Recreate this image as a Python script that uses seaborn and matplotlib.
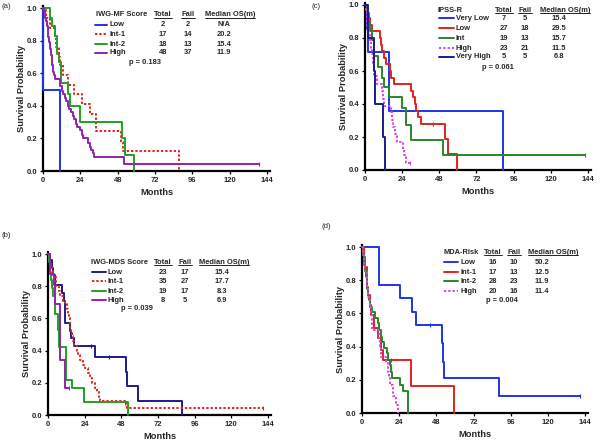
import numpy as np
import pandas as pd
import matplotlib
matplotlib.use('Agg')
import matplotlib.pyplot as plt
import seaborn as sns
from matplotlib.lines import Line2D

# ---------------- data ----------------
month_ticks = [0, 24, 48, 72, 96, 120, 144]
prob_ticks = [0.0, 0.2, 0.4, 0.6, 0.8, 1.0]

# (a) IWG-MF
a_groups = ['Low', 'Int-1', 'Int-2', 'High']
a_total = ['2', '17', '18', '48']
a_fail = ['2', '14', '13', '37']
a_median = ['N/A', '20.2', '15.4', '11.9']
a_p = 'p = 0.183'
a_low_t = [0, 0.2, 10.7]
a_low_s = [1.0, 0.5, 0.0]
a_int1_t = [0, 2.1, 4.3, 7.5, 8.6, 10.3, 11.1, 12.9, 16.1, 19.7, 25.3, 30, 34.3, 50.4, 51.4, 87.2]
a_int1_s = [1.0, 0.94, 0.88, 0.82, 0.76, 0.70, 0.65, 0.59, 0.53, 0.47, 0.41, 0.35, 0.245, 0.18, 0.12, 0.0]
a_int2_t = [0, 4.3, 6, 7.5, 9, 10.3, 11.8, 16.1, 17.1, 23.6, 51, 52.5, 58.5]
a_int2_s = [1.0, 0.94, 0.89, 0.83, 0.72, 0.67, 0.54, 0.47, 0.40, 0.30, 0.20, 0.10, 0.0]
a_high_t = [0, 0.5, 1, 1.5, 2, 2.5, 3, 3.5, 4, 4.5, 5, 5.5, 6, 6.5, 7, 7.5, 10.7, 12, 13, 14, 15,
            16, 17, 18, 19, 20, 21, 22, 24, 25, 26, 29, 30, 31, 32, 33, 52]
a_high_s = [1.0, 0.98, 0.96, 0.94, 0.92, 0.89, 0.85, 0.82, 0.79, 0.75, 0.71, 0.69, 0.65, 0.61, 0.59,
            0.566, 0.52, 0.49, 0.47, 0.45, 0.43, 0.40, 0.38, 0.36, 0.34, 0.32, 0.29, 0.27, 0.25, 0.22,
            0.20, 0.17, 0.15, 0.13, 0.11, 0.087, 0.04]
a_high_end = 139
a_cens_t = [139]
a_cens_s = [0.04]

# (b) IWG-MDS
b_groups = ['Low', 'Int-1', 'Int-2', 'High']
b_total = ['23', '35', '19', '8']
b_fail = ['17', '27', '17', '5']
b_median = ['15.4', '17.7', '8.3', '6.9']
b_p = 'p = 0.039'
b_low_t = [0, 1.5, 2.5, 3.5, 4.8, 9.1, 10.2, 10.8, 11.3, 14.6, 15.3, 17.2, 30.9, 51.1, 52, 59.2, 87.4]
b_low_s = [1.0, 0.96, 0.91, 0.87, 0.81, 0.76, 0.71, 0.66, 0.57, 0.52, 0.48, 0.43, 0.36, 0.27, 0.18, 0.09, 0.0]
b_int1_t = [0, 0.5, 1, 2, 3, 4, 5.4, 7, 8, 10, 11.3, 12.3, 13, 13.9, 14.3, 14.6, 15, 15.6, 16.3, 17.2,
            18.9, 19.6, 21, 23, 24.4, 26, 27.5, 29, 30.9, 32, 33.5, 34.2, 51.1, 51.6]
b_int1_s = [1.0, 0.97, 0.94, 0.91, 0.89, 0.86, 0.80, 0.77, 0.74, 0.71, 0.69, 0.66, 0.63, 0.60, 0.57,
            0.54, 0.51, 0.49, 0.46, 0.43, 0.40, 0.37, 0.34, 0.31, 0.29, 0.26, 0.23, 0.20, 0.17, 0.14,
            0.11, 0.09, 0.06, 0.045]
b_int1_end = 140.7
b_int2_t = [0, 0.5, 1.5, 2, 2.5, 3.3, 4.5, 6.3, 6.6, 7, 7.5, 11.5, 11.8, 12.1, 15.7, 23.7, 52.6]
b_int2_s = [1.0, 0.95, 0.89, 0.84, 0.79, 0.74, 0.63, 0.58, 0.53, 0.47, 0.42, 0.37, 0.32, 0.22, 0.17, 0.08, 0.0]
b_high_t = [0, 1, 3.7, 4.8, 7.6, 11.3]
b_high_s = [1.0, 0.875, 0.81, 0.69, 0.34, 0.17]
b_high_end = 13.5
b_cens_low_t = [28, 40]
b_cens_low_s = [0.43, 0.36]
b_cens_int1_t = [140.7]
b_cens_int1_s = [0.045]
b_cens_high_t = [13.5]
b_cens_high_s = [0.17]

# (c) IPSS-R
c_groups = ['Very Low', 'Low', 'Int', 'High', 'Very High']
c_total = ['7', '27', '19', '23', '5']
c_fail = ['5', '18', '13', '21', '5']
c_median = ['15.4', '29.5', '15.7', '11.5', '6.8']
c_p = 'p = 0.061'
c_vlow_t = [0, 1, 2, 15.7, 88.8]
c_vlow_s = [1.0, 0.857, 0.714, 0.357, 0.0]
c_low_t = [0, 1, 2, 3, 4.3, 9.7, 10.5, 11.2, 12.5, 13.5, 16, 16.5, 18.5, 29.7, 31, 32, 33, 34.5, 36,
           51.6, 53.3, 59.7]
c_low_s = [1.0, 0.96, 0.92, 0.88, 0.84, 0.80, 0.76, 0.72, 0.68, 0.64, 0.60, 0.56, 0.52, 0.48, 0.44,
           0.40, 0.36, 0.32, 0.28, 0.19, 0.094, 0.0]
c_int_t = [0, 1.5, 2.5, 3.5, 4.5, 5.8, 8.6, 10.8, 12.5, 15.7, 23.6, 26.4, 30, 50.5]
c_int_s = [1.0, 0.95, 0.89, 0.84, 0.79, 0.69, 0.625, 0.56, 0.50, 0.44, 0.375, 0.27, 0.18, 0.09]
c_int_end = 141.8
c_high_t = [0, 0.5, 1, 1.5, 2, 3, 4, 4.5, 5, 5.5, 6, 7.5, 11, 11.5, 12, 16.5, 17.5, 18.3, 19.5, 20.5,
            24.7, 25.5, 26.5]
c_high_s = [1.0, 0.96, 0.91, 0.87, 0.83, 0.78, 0.74, 0.70, 0.65, 0.61, 0.57, 0.52, 0.48, 0.43, 0.39,
            0.35, 0.30, 0.26, 0.22, 0.17, 0.13, 0.09, 0.045]
c_high_end = 29
c_vhigh_t = [0, 2, 6, 6.5, 11.4, 12.9]
c_vhigh_s = [1.0, 0.8, 0.6, 0.4, 0.2, 0.0]
c_cens_t = [141.8, 44, 29]
c_cens_s = [0.09, 0.28, 0.045]

# (d) MDA-Risk
d_groups = ['Low', 'Int-1', 'Int-2', 'High']
d_total = ['16', '17', '28', '20']
d_fail = ['10', '13', '23', '16']
d_median = ['50.2', '12.5', '11.9', '11.4']
d_p = 'p = 0.004'
d_low_t = [0, 11.2, 24.5, 32.1, 34.9, 51.4, 52.1, 53, 88.5]
d_low_s = [1.0, 0.77, 0.69, 0.61, 0.53, 0.42, 0.31, 0.21, 0.105]
d_low_end = 140.8
d_int1_t = [0, 1, 2, 3, 3.5, 4, 5, 6, 7.5, 10.5, 12, 13.8, 31.6, 59.4]
d_int1_s = [1.0, 0.94, 0.88, 0.82, 0.76, 0.71, 0.65, 0.59, 0.51, 0.45, 0.38, 0.32, 0.16, 0.0]
d_int2_t = [0, 0.5, 1, 1.5, 2, 2.5, 3, 3.5, 4, 4.5, 5, 6.2, 8.4, 10.5, 11, 12, 13, 14, 15.9, 17,
            18, 18.5, 19.2, 24.5, 26.7, 29.9]
d_int2_s = [1.0, 0.96, 0.93, 0.89, 0.86, 0.82, 0.79, 0.75, 0.71, 0.68, 0.64, 0.61, 0.57, 0.54, 0.50,
            0.46, 0.43, 0.39, 0.36, 0.32, 0.29, 0.25, 0.21, 0.17, 0.13, 0.0]
d_high_t = [0, 0.5, 1, 2, 3, 3.5, 4, 5.2, 5.7, 6.2, 11.2, 11.7, 12.3, 15.5, 16.5, 17.5, 18, 19.8, 22, 23.5]
d_high_s = [1.0, 0.95, 0.90, 0.85, 0.80, 0.75, 0.70, 0.65, 0.60, 0.50, 0.45, 0.40, 0.34, 0.30, 0.25,
            0.21, 0.17, 0.10, 0.05, 0.0]
d_cens_t = [43.9, 140.8, 18.5]
d_cens_s = [0.53, 0.105, 0.32]

# ---------------- style ----------------
sns.set_style('ticks')
plt.rcParams['font.family'] = ['Liberation Sans', 'DejaVu Sans']
plt.rcParams['font.weight'] = 'bold'
plt.rcParams['axes.labelweight'] = 'bold'

NAVY = '#1c1c8c'
BLUE = '#1f35e6'
RED = '#e3221c'
GREEN = '#22a022'
DGREEN = '#2a862a'
PURPLE = '#9322b0'
MAGENTA = '#dd44dd'
SOLID = '-'
DOT = (0, (1.2, 1.0))

fig = plt.figure(figsize=(6, 4.4), dpi=100)
W, H = 600.0, 440.0


def fx(x):
    return x / W


def fy(y):
    return 1 - y / H


def make_axes(x0, px_per_mo, y0, px_per_unit):
    width = 146 * px_per_mo
    height = 1.01 * px_per_unit
    return fig.add_axes([x0 / W, 1 - y0 / H, width / W, height / H])


def draw_curve(ax, t, s, color, ls, end=None):
    tt = list(t)
    ss = list(s)
    if end is not None:
        tt.append(end)
        ss.append(ss[-1])
    df = pd.DataFrame({'Months': tt, 'Survival': ss})
    sns.lineplot(data=df, x='Months', y='Survival', ax=ax, color=color, linestyle=ls,
                 drawstyle='steps-post', estimator=None, sort=False, lw=1.4,
                 clip_on=False, zorder=3)


def draw_censor(ax, t, s, colors):
    df = pd.DataFrame({'Months': t, 'Survival': s})
    for i in range(len(df)):
        ax.plot(df['Months'].iloc[i], df['Survival'].iloc[i], marker='|', ms=3.5,
                mew=0.8, color=colors[i], clip_on=False, zorder=4)


def style_axes(ax):
    ax.set_xlim(0, 146)
    ax.set_ylim(0, 1.01)
    ax.set_xticks(month_ticks)
    ax.set_yticks(prob_ticks)
    ax.set_yticklabels(['%.1f' % v for v in prob_ticks])
    for side in ['top', 'right']:
        ax.spines[side].set_visible(False)
    for side in ['left', 'bottom']:
        ax.spines[side].set_linewidth(1.6)
        ax.spines[side].set_color('black')
    ax.tick_params(axis='both', labelsize=5.5, width=0.9, length=2.5, pad=1.5, color='black')
    for lab in ax.get_xticklabels() + ax.get_yticklabels():
        lab.set_fontweight('bold')
    ax.set_xlabel('Months', fontsize=6.7, fontweight='bold', labelpad=3)
    ax.set_ylabel('Survival Probability', fontsize=6.7, fontweight='bold', labelpad=0.5)
    ax.set_facecolor('white')
    ax.grid(False)


underlined = []


def legend_block(title, title_x, hdr_y, row_ys, line_x0, line_x1, lab_x, groups, colors, styles,
                 total, fail, median, tot_x, fail_x, med_hx, med_x, p, p_x, p_y):
    fs = 5.4
    fig.text(fx(title_x), fy(hdr_y), title, fontsize=fs, fontweight='bold', ha='left', va='center')
    for txt, x in [('Total', tot_x), ('Fail', fail_x), ('Median OS(m)', med_hx)]:
        t = fig.text(fx(x), fy(hdr_y), txt, fontsize=fs, fontweight='bold', ha='center', va='center')
        underlined.append(t)
    for i, g in enumerate(groups):
        y = row_ys[i]
        fig.add_artist(Line2D([fx(line_x0), fx(line_x1)], [fy(y), fy(y)], color=colors[i],
                              linestyle=styles[i], lw=1.4, transform=fig.transFigure))
        fig.text(fx(lab_x), fy(y), g, fontsize=fs, fontweight='bold', ha='left', va='center')
        fig.text(fx(tot_x), fy(y), total[i], fontsize=fs, fontweight='bold', ha='center', va='center')
        fig.text(fx(fail_x), fy(y), fail[i], fontsize=fs, fontweight='bold', ha='center', va='center')
        fig.text(fx(med_x), fy(y), median[i], fontsize=fs, fontweight='bold', ha='center', va='center')
    fig.text(fx(p_x), fy(p_y), p, fontsize=fs, fontweight='bold', ha='center', va='center')


# ---------------- panel (a) ----------------
axA = make_axes(43, 224 / 144, 171, 163)
a_colors = [BLUE, RED, GREEN, PURPLE]
a_styles = [SOLID, DOT, SOLID, SOLID]
draw_curve(axA, a_low_t, a_low_s, a_colors[0], SOLID)
draw_curve(axA, a_int1_t, a_int1_s, a_colors[1], DOT)
draw_curve(axA, a_int2_t, a_int2_s, a_colors[2], SOLID)
draw_curve(axA, a_high_t, a_high_s, a_colors[3], SOLID, end=a_high_end)
draw_censor(axA, a_cens_t, a_cens_s, [PURPLE])
style_axes(axA)
legend_block('IWG-MF Score', 96, 15, [25, 34, 44, 53], 95, 107, 110, a_groups, a_colors, a_styles,
             a_total, a_fail, a_median, 163, 188, 230, 224, a_p, 145, 63)
fig.text(fx(1), fy(6), '(a)', fontsize=5.6, fontweight='normal', ha='left', va='center')

# ---------------- panel (c) ----------------
axC = make_axes(365, 223 / 144, 170, 165)
c_colors = [BLUE, RED, DGREEN, MAGENTA, NAVY]
c_styles = [SOLID, SOLID, SOLID, DOT, SOLID]
draw_curve(axC, c_vlow_t, c_vlow_s, c_colors[0], SOLID)
draw_curve(axC, c_low_t, c_low_s, c_colors[1], SOLID)
draw_curve(axC, c_int_t, c_int_s, c_colors[2], SOLID, end=c_int_end)
draw_curve(axC, c_high_t, c_high_s, c_colors[3], DOT, end=c_high_end)
draw_curve(axC, c_vhigh_t, c_vhigh_s, c_colors[4], SOLID)
draw_censor(axC, c_cens_t, c_cens_s, [DGREEN, RED, MAGENTA])
style_axes(axC)
legend_block('IPSS-R', 438, 10, [18, 28, 38, 48, 57], 439, 454, 456, c_groups, c_colors, c_styles,
             c_total, c_fail, c_median, 504, 525, 565, 559, c_p, 498, 67)
fig.text(fx(312), fy(6), '(c)', fontsize=5.6, fontweight='normal', ha='left', va='center')

# ---------------- panel (b) ----------------
axB = make_axes(48, 220 / 144, 415, 161)
b_colors = [NAVY, RED, GREEN, PURPLE]
b_styles = [SOLID, DOT, SOLID, SOLID]
draw_curve(axB, b_low_t, b_low_s, b_colors[0], SOLID)
draw_curve(axB, b_int1_t, b_int1_s, b_colors[1], DOT, end=b_int1_end)
draw_curve(axB, b_int2_t, b_int2_s, b_colors[2], SOLID)
draw_curve(axB, b_high_t, b_high_s, b_colors[3], SOLID, end=b_high_end)
draw_censor(axB, b_cens_low_t, b_cens_low_s, [NAVY, NAVY])
draw_censor(axB, b_cens_int1_t, b_cens_int1_s, [RED])
draw_censor(axB, b_cens_high_t, b_cens_high_s, [PURPLE])
style_axes(axB)
legend_block('IWG-MDS Score', 91, 262, [272, 281, 291, 300], 92, 106, 108, b_groups, b_colors,
             b_styles, b_total, b_fail, b_median, 163, 185, 224, 222, b_p, 137, 309)
fig.text(fx(1), fy(235), '(b)', fontsize=5.6, fontweight='normal', ha='left', va='center')

# ---------------- panel (d) ----------------
axD = make_axes(362, 223 / 144, 413, 166)
d_colors = [BLUE, RED, DGREEN, MAGENTA]
d_styles = [SOLID, SOLID, SOLID, DOT]
draw_curve(axD, d_low_t, d_low_s, d_colors[0], SOLID, end=d_low_end)
draw_curve(axD, d_int1_t, d_int1_s, d_colors[1], SOLID)
draw_curve(axD, d_int2_t, d_int2_s, d_colors[2], SOLID)
draw_curve(axD, d_high_t, d_high_s, d_colors[3], DOT)
draw_censor(axD, d_cens_t, d_cens_s, [BLUE, BLUE, RED])
style_axes(axD)
legend_block('MDA-Risk', 443, 252, [262, 272, 281, 291], 444, 458, 460, d_groups, d_colors, d_styles,
             d_total, d_fail, d_median, 493, 514, 553, 542, d_p, 502, 301)
fig.text(fx(322), fy(226), '(d)', fontsize=5.6, fontweight='normal', ha='left', va='center')

# underline headers
fig.canvas.draw()
renderer = fig.canvas.get_renderer()
for t in underlined:
    bb = t.get_window_extent(renderer)
    yy = (bb.y0 + 0.6) / H
    fig.add_artist(Line2D([bb.x0 / W, bb.x1 / W], [yy, yy], color='black', lw=0.6,
                          transform=fig.transFigure))

fig.savefig('out.png', dpi=100, facecolor='white')
